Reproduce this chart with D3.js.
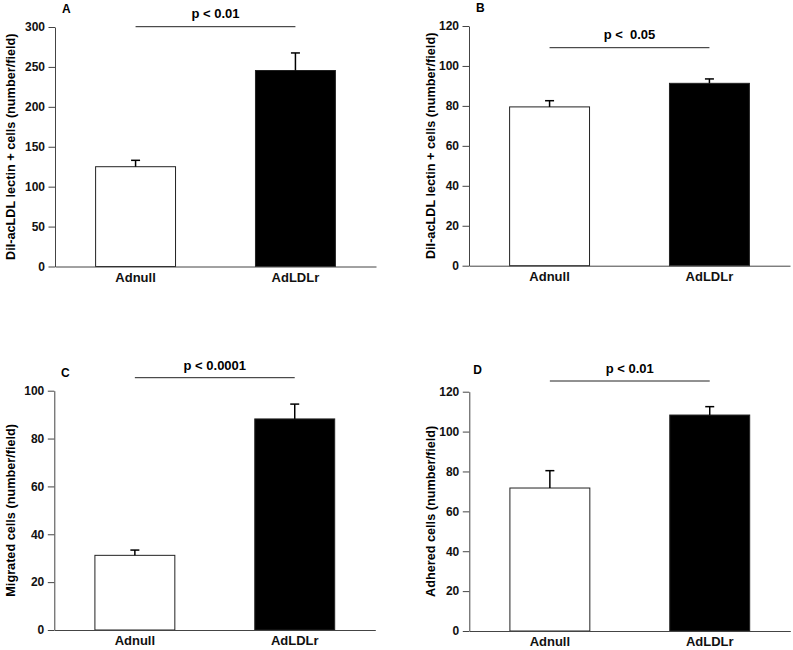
<!DOCTYPE html>
<html>
<head>
<meta charset="utf-8">
<script src="https://cdn.jsdelivr.net/npm/d3@7"></script>
<style>
  body { margin: 0; background: #fff; }
  svg { font-family: "Liberation Sans", Arial, Helvetica, sans-serif; font-weight: bold; }
  .tick text { font-size: 12px; fill: #111; }
  .axis path, .axis line { stroke: #444; }
</style>
</head>
<body>
<svg></svg>
<script>
// chart values
const categories = ["Adnull", "AdLDLr"]
const panelLetters = ["A", "B", "C", "D"]
const yTitles = [
  "DiI-acLDL lectin + cells (number/field)",
  "DiI-acLDL lectin + cells (number/field)",
  "Migrated cells (number/field)",
  "Adhered cells (number/field)"
]
const meansA = [125, 245.5]
const semA = [8, 22]
const meansB = [79.5, 91.3]
const semB = [3.1, 2.2]
const meansC = [31.2, 88.2]
const semC = [2.2, 6.2]
const meansD = [71.7, 108.3]
const semD = [8.7, 4.2]
const yMaxes = [300, 120, 100, 120]
const tickValuesA = [0, 50, 100, 150, 200, 250, 300]
const tickValuesB = [0, 20, 40, 60, 80, 100, 120]
const tickValuesC = [0, 20, 40, 60, 80, 100]
const tickValuesD = [0, 20, 40, 60, 80, 100, 120]
const pLabels = ["p < 0.01", "p <  0.05", "p < 0.0001", "p < 0.01"]

const width = 793
const height = 650

// where each panel sits on the page
const layout = [
  { x: 55, top: 27, bottom: 266.5, sigY: 26.7, pY: 18.3, lx: 62, ly: 13.3, tx: 15 },
  { x: 469, top: 26, bottom: 265.7, sigY: 47.7, pY: 39.3, lx: 476, ly: 12.3, tx: 435 },
  { x: 54.3, top: 390.7, bottom: 630, sigY: 377.7, pY: 370, lx: 61, ly: 376.7, tx: 15 },
  { x: 469.3, top: 391.7, bottom: 631, sigY: 381, pY: 373.3, lx: 473.3, ly: 374.3, tx: 435 }
]
const plotW = 321

const panels = [
  { means: meansA, sem: semA, ticks: tickValuesA },
  { means: meansB, sem: semB, ticks: tickValuesB },
  { means: meansC, sem: semC, ticks: tickValuesC },
  { means: meansD, sem: semD, ticks: tickValuesD }
]

const svg = d3.select("svg")
  .attr("width", width)
  .attr("height", height)
  .attr("viewBox", [0, 0, width, height])

panels.forEach(function (p, i) {
  const L = layout[i]
  const g = svg.append("g").attr("transform", "translate(" + L.x + ",0)")

  const x = d3.scaleBand()
    .domain(categories)
    .range([0, plotW])
    .paddingInner(0.5)
    .paddingOuter(0.254)

  const y = d3.scaleLinear()
    .domain([0, yMaxes[i]])
    .range([L.bottom, L.top])

  const rows = categories.map(function (c, j) {
    return { cat: c, mean: p.means[j], sem: p.sem[j] }
  })

  // bars
  g.selectAll(".bar")
    .data(rows)
    .enter()
    .append("rect")
    .attr("class", "bar")
    .attr("x", function (d) { return x(d.cat) })
    .attr("y", function (d) { return y(d.mean) })
    .attr("width", x.bandwidth())
    .attr("height", function (d) { return y(0) - y(d.mean) })
    .attr("fill", function (d, j) { return j == 0 ? "#fff" : "#000" })
    .attr("stroke", "#222")
    .attr("stroke-width", 1)

  // error bars (upper only)
  const eb = g.selectAll(".err")
    .data(rows)
    .enter()
    .append("g")
    .attr("class", "err")
    .attr("stroke", "#000")
    .attr("stroke-width", 1.5)
  eb.append("line")
    .attr("x1", function (d) { return x(d.cat) + x.bandwidth() / 2 })
    .attr("x2", function (d) { return x(d.cat) + x.bandwidth() / 2 })
    .attr("y1", function (d) { return y(d.mean) })
    .attr("y2", function (d) { return y(d.mean + d.sem) })
  eb.append("line")
    .attr("x1", function (d) { return x(d.cat) + x.bandwidth() / 2 - 4.5 })
    .attr("x2", function (d) { return x(d.cat) + x.bandwidth() / 2 + 4.5 })
    .attr("y1", function (d) { return y(d.mean + d.sem) })
    .attr("y2", function (d) { return y(d.mean + d.sem) })

  // axes
  g.append("g")
    .attr("class", "axis")
    .call(d3.axisLeft(y).tickValues(p.ticks).tickSize(6.5).tickPadding(3.5).tickSizeOuter(0))

  const xa = g.append("g")
    .attr("class", "axis")
    .attr("transform", "translate(0," + L.bottom + ")")
    .call(d3.axisBottom(x).tickSize(0).tickSizeOuter(0).tickPadding(6))
  xa.selectAll("text").style("font-size", "13px")

  // significance line
  const c0 = x(categories[0]) + x.bandwidth() / 2
  const c1 = x(categories[1]) + x.bandwidth() / 2
  g.append("line")
    .attr("x1", c0)
    .attr("x2", c1)
    .attr("y1", L.sigY)
    .attr("y2", L.sigY)
    .attr("stroke", "#222")
    .attr("stroke-width", 1)
  g.append("text")
    .attr("x", (c0 + c1) / 2)
    .attr("y", L.pY)
    .attr("text-anchor", "middle")
    .style("font-size", "13px")
    .style("white-space", "pre")
    .text(pLabels[i])

  // panel letter
  svg.append("text")
    .attr("x", L.lx)
    .attr("y", L.ly)
    .style("font-size", "12px")
    .text(panelLetters[i])

  // y title
  svg.append("text")
    .attr("transform", "translate(" + L.tx + "," + (L.top + L.bottom) / 2 + ") rotate(-90)")
    .attr("text-anchor", "middle")
    .style("font-size", "12.7px")
    .text(yTitles[i])
})
</script>
</body>
</html>
